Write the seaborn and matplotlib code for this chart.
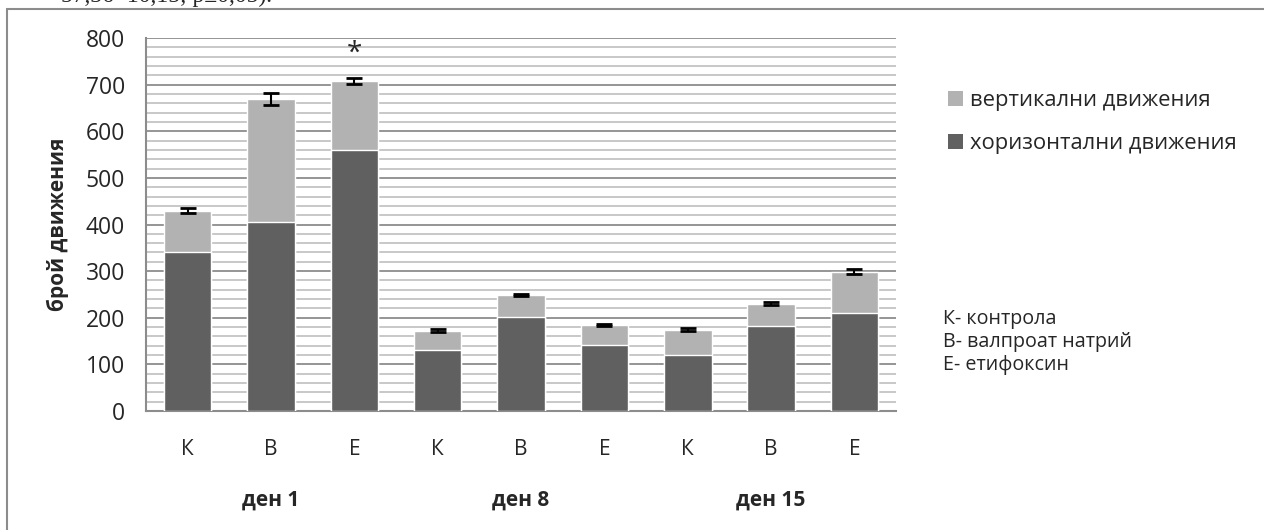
import matplotlib
matplotlib.use("Agg")
import matplotlib.pyplot as plt
from matplotlib.patches import Patch
from matplotlib.lines import Line2D
from matplotlib.ticker import MultipleLocator
import seaborn as sns
import pandas as pd

days = ["ден 1", "ден 8", "ден 15"]
groups = ["К", "В", "Е"]
horizontal = [340, 405, 560, 130, 202, 142, 120, 182, 210]
total = [430, 670, 708, 172, 248, 185, 174, 230, 299]
errors = [5, 13, 7, 3, 2, 2, 3, 3, 5]
legend_labels = ["вертикални движения", "хоризонтални движения"]
key_lines = ["К- контрола", "В- валпроат натрий", "Е- етифоксин"]

sns.set_style("white")
plt.rcParams["font.family"] = ["Open Sans", "DejaVu Sans"]

df = pd.DataFrame({
    "bar": [f"{d} {g}" for d in days for g in groups],
    "label": [g for d in days for g in groups],
    "total": total,
    "horizontal": horizontal,
    "err": errors,
})

fig = plt.figure(figsize=(12.64, 5.30), dpi=100)
ax = fig.add_axes([0.1155, 0.2245, 0.5935, 0.7038])

light = "#b2b2b2"
dark = "#606060"
sns.barplot(data=df, x="bar", y="total", color=light, width=0.57,
            saturation=1, ax=ax, zorder=3, errorbar=None)
sns.barplot(data=df, x="bar", y="horizontal", color=dark, width=0.57,
            saturation=1, ax=ax, zorder=4, errorbar=None)
ax.errorbar(range(len(df)), df["total"], yerr=df["err"], fmt="none",
            ecolor="black", elinewidth=1.5, capsize=6, capthick=2, zorder=5)
ax.text(2, 766, "*", ha="center", va="center", fontsize=20)

ax.set_xlim(-0.5, len(df) - 0.5)
ax.set_ylim(0, 800)
ax.yaxis.set_major_locator(MultipleLocator(100))
ax.yaxis.set_minor_locator(MultipleLocator(20))
ax.grid(which="minor", axis="y", color="#c4c4c4", linewidth=1.3, zorder=0)
ax.grid(which="major", axis="y", color="#8c8c8c", linewidth=1.3, zorder=1)
ax.set_axisbelow(True)
for s in ["top", "right"]:
    ax.spines[s].set_visible(False)
for s in ["left", "bottom"]:
    ax.spines[s].set_color("#8c8c8c")
    ax.spines[s].set_linewidth(1.5)
ax.tick_params(axis="y", which="major", length=7, width=1.5, color="#8c8c8c",
               labelsize=16.5, pad=8)
ax.tick_params(axis="y", which="minor", length=0)
ax.tick_params(axis="x", length=0, labelsize=15, pad=20)
ax.set_xticks(range(len(df)))
ax.set_xticklabels(df["label"])
ax.set_xlabel("")
ax.set_ylabel("брой движения", fontsize=15, fontweight="bold", labelpad=12)

for i, d in enumerate(days):
    fig.text(ax.transData.transform((3 * i + 1, 0))[0] / fig.bbox.width,
             1 - 500 / 530, d, ha="center", va="center",
             fontsize=15, fontweight="bold")

handles = [Patch(facecolor=light, edgecolor="none"),
           Patch(facecolor=dark, edgecolor="none")]
fig.legend(handles, legend_labels, loc="center left",
           bbox_to_anchor=(928 / 1264, 1 - 122 / 530), frameon=False,
           fontsize=15.8, handlelength=0.7, handleheight=0.7,
           handletextpad=0.3, labelspacing=1.0)

fig.text(943 / 1264, 1 - 342 / 530, "\n".join(key_lines), ha="left",
         va="center", fontsize=14.2, linespacing=1.2)

# chart frame (only left and top edges are visible)
fig.add_artist(Line2D([7 / 1264, 7 / 1264], [0, 1 - 9 / 530],
                      transform=fig.transFigure, color="#8c8c8c", lw=1.5))
fig.add_artist(Line2D([7 / 1264, 1], [1 - 9 / 530, 1 - 9 / 530],
                      transform=fig.transFigure, color="#8c8c8c", lw=1.5))

# clipped line of the surrounding document text
fig.text(272 / 1264, 1 - 2 / 530, "57,36÷10,15; p≤0,05).", ha="right",
         va="baseline", fontsize=17, family=["Liberation Serif", "DejaVu Serif"])

fig.savefig("out.png", dpi=100)
